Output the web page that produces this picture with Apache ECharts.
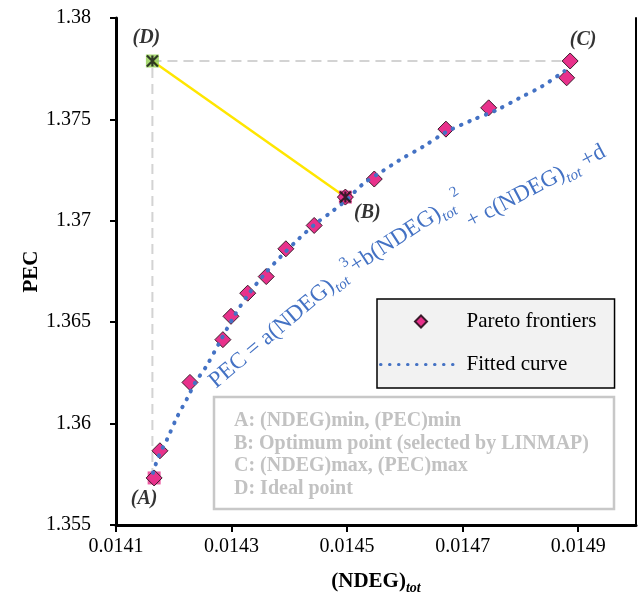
<!DOCTYPE html>
<html>
<head>
<meta charset="utf-8">
<script src="https://cdn.jsdelivr.net/npm/echarts@6/dist/echarts.min.js"></script>
<style>
  html, body { margin: 0; padding: 0; background: #fff; }
  #chart { width: 638px; height: 605px; }
</style>
</head>
<body>
<div id="chart"></div>
<script>
// Axis ranges and tick labels
const xRange = [0.0141, 0.015];
const yRange = [1.355, 1.38];
const xTicks = [0.0141, 0.0143, 0.0145, 0.0147, 0.0149];
const yTicks = [1.355, 1.36, 1.365, 1.37, 1.375, 1.38];

// Pareto frontier solutions: (NDEG)tot vs PEC
const paretoNDEG = [0.014166, 0.014176, 0.014228, 0.014285, 0.014299, 0.014328, 0.014360, 0.014394, 0.014443, 0.014497, 0.014547, 0.014671, 0.014745, 0.014880, 0.014886];
const paretoPEC  = [1.35732, 1.35866, 1.36203, 1.36414, 1.36529, 1.36643, 1.36725, 1.36862, 1.36977, 1.37117, 1.37206, 1.37452, 1.37557, 1.37705, 1.37788];

// Cubic fitted curve through the frontier
const fitNDEG = [0.014164, 0.014174, 0.014188, 0.014206, 0.014223, 0.014237, 0.014256, 0.014278, 0.014304, 0.014330, 0.014358, 0.014387, 0.014417, 0.014446, 0.014474, 0.014498, 0.014529, 0.014561, 0.014590, 0.014633, 0.014671, 0.014716, 0.014758, 0.014798, 0.014838, 0.014876];
const fitPEC  = [1.35757, 1.35841, 1.35920, 1.36034, 1.36123, 1.36202, 1.36281, 1.36394, 1.36528, 1.36641, 1.36740, 1.36829, 1.36913, 1.36987, 1.37046, 1.37101, 1.37185, 1.37244, 1.37298, 1.37368, 1.37437, 1.37496, 1.37545, 1.37605, 1.37664, 1.37738];

// Key points A (min/min), B (LINMAP optimum), C (max/max), D (ideal)
const keyLabels = ['(A)', '(B)', '(C)', '(D)'];
const keyNDEG = [0.014166, 0.014497, 0.014886, 0.014163];
const keyPEC  = [1.35732, 1.37117, 1.37788, 1.37788];

const noteLines = [
  'A: (NDEG)min, (PEC)min',
  'B: Optimum point (selected by LINMAP)',
  'C: (NDEG)max, (PEC)max',
  'D: Ideal point'
];

const SERIF = '"Liberation Serif", "Times New Roman", serif';
const PINK = '#E8318B';
const BLUE = '#4472C4';
const fmt = v => String(parseFloat(Number(v).toFixed(5)));
const pt = i => [keyNDEG[i], keyPEC[i]];

const labelOffsets = [[-10, 21], [22, 16], [13, -21], [-6, -23]];

const chart = echarts.init(document.getElementById('chart'), null, { renderer: 'canvas' });

const eqRich = {
  m: { fontFamily: SERIF, fontSize: 23, fill: BLUE, lineHeight: 31 },
  s: { fontFamily: SERIF, fontSize: 15, fontStyle: 'italic', fill: BLUE, lineHeight: 15, verticalAlign: 'bottom' },
  p: { fontFamily: SERIF, fontSize: 15, fill: BLUE, lineHeight: 15, verticalAlign: 'top' }
};
function eqPiece(text, x, y, deg) {
  return {
    type: 'text', x: x, y: y, rotation: deg * Math.PI / 180, z: 20, silent: true,
    style: { text: text, rich: eqRich, align: 'left', verticalAlign: 'middle' }
  };
}

const option = {
  animation: false,
  backgroundColor: '#fff',
  grid: { left: 116, right: 2, top: 18, bottom: 80, containLabel: false },
  legend: {
    left: 377, top: 299, orient: 'vertical', selectedMode: false,
    data: [
      { name: 'Pareto frontiers', icon: 'path://M5 0L10 5L5 10L0 5Z' },
      { name: 'Fitted curve', itemStyle: { opacity: 0 } }
    ],
    symbolKeepAspect: true,
    itemWidth: 81, itemHeight: 12, itemGap: 22,
    padding: [12, 18, 13, 2],
    backgroundColor: '#f2f2f2', borderColor: '#000', borderWidth: 1.5,
    lineStyle: { width: 3 },
    textStyle: { fontFamily: SERIF, fontSize: 21, color: '#000' }
  },
  xAxis: [{
    type: 'value', min: xRange[0], max: xRange[1],
    axisLine: { show: true, onZero: false, lineStyle: { color: '#000', width: 3 } },
    axisTick: { show: true, length: 7, customValues: xTicks, lineStyle: { color: '#000', width: 2 } },
    axisLabel: { customValues: xTicks, formatter: fmt, fontFamily: SERIF, fontSize: 20, color: '#000', margin: 12 },
    splitLine: { show: false },
    name: '{m|(NDEG)}{s|tot}', nameLocation: 'middle', nameGap: 44, nameMoveOverlap: false,
    nameTextStyle: {
      rich: {
        m: { fontFamily: SERIF, fontSize: 21, fontWeight: 'bold', color: '#000', lineHeight: 26 },
        s: { fontFamily: SERIF, fontSize: 14, fontWeight: 'bold', fontStyle: 'italic', color: '#000', lineHeight: 14, verticalAlign: 'bottom' }
      }
    }
  }],
  yAxis: [{
    type: 'value', min: yRange[0], max: yRange[1],
    axisLine: { show: true, onZero: false, lineStyle: { color: '#000', width: 3 } },
    axisTick: { show: true, length: 6, customValues: yTicks, lineStyle: { color: '#000', width: 2 } },
    axisLabel: { customValues: yTicks, formatter: fmt, fontFamily: SERIF, fontSize: 20, color: '#000', margin: 25 },
    splitLine: { show: false },
    name: 'PEC', nameLocation: 'middle', nameGap: 74, nameRotate: 90, nameMoveOverlap: false,
    nameTextStyle: { fontFamily: SERIF, fontSize: 21, fontWeight: 'bold', color: '#000' }
  }, {
    type: 'value', min: yRange[0], max: yRange[1], position: 'right',
    axisLine: { show: true, onZero: false, lineStyle: { color: '#000', width: 2 } },
    axisTick: { show: false }, axisLabel: { show: false }, splitLine: { show: false }
  }],
  graphic: [
    {
      type: 'rect', shape: { x: 214, y: 397, width: 400, height: 112 }, z: 10, silent: true,
      style: { fill: '#fff', stroke: '#c8c8c8', lineWidth: 2.5 }
    },
    {
      type: 'text', x: 234, y: 410, z: 11, silent: true,
      style: {
        text: noteLines.join('\n'), fill: '#c2c2c2', lineHeight: 22.5,
        font: 'bold 20px ' + SERIF, align: 'left', verticalAlign: 'top'
      }
    },
    eqPiece('{m|PEC = a(NDEG)}{s|tot}{p| 3}', 212, 384, 40),
    eqPiece('{m|+b(NDEG)}{s|tot}{p| 2}', 352, 268, 33),
    eqPiece('{m|+ c(NDEG)}{s|tot}{m| +d}', 468, 223, 28)
  ],
  series: [
    {
      // dashed guides from the ideal point to A and C
      type: 'line', silent: true, z: 1, symbol: 'none',
      data: [[keyNDEG[3], keyPEC[0]], pt(3), pt(2)],
      lineStyle: { color: '#d3d3d3', width: 2, type: [10, 6] }
    },
    {
      // distance from ideal point to the optimum
      type: 'line', silent: true, z: 2, symbol: 'none',
      data: [pt(3), pt(1)],
      lineStyle: { color: '#FFE600', width: 2.5 }
    },
    {
      type: 'scatter', silent: true, z: 3, symbol: 'rect', symbolSize: 13,
      data: [
        { value: pt(0), itemStyle: { color: PINK } },
        { value: pt(1), itemStyle: { color: PINK } },
        { value: pt(3), itemStyle: { color: '#92D050' } }
      ]
    },
    {
      name: 'Pareto frontiers', type: 'scatter', z: 4, symbol: 'diamond', symbolSize: 16,
      itemStyle: { color: PINK, borderColor: '#3b1b2b', borderWidth: 1, opacity: 1 },
      data: paretoNDEG.map((x, i) => [x, paretoPEC[i]])
    },
    {
      name: 'Fitted curve', type: 'line', z: 5, smooth: 0.3, symbol: 'none',
      lineStyle: { color: BLUE, width: 4, type: [0.5, 8.5], cap: 'round' },
      itemStyle: { color: BLUE },
      data: fitNDEG.map((x, i) => [x, fitPEC[i]])
    },
    {
      type: 'scatter', silent: true, z: 6, symbolSize: 11,
      symbol: 'path://M0 0L10 10M10 0L0 10M5 0L5 10',
      itemStyle: { color: 'none', borderColor: '#111', borderWidth: 2.2 },
      data: [pt(1), pt(3)]
    },
    {
      type: 'scatter', silent: true, z: 7, symbolSize: 1,
      itemStyle: { color: 'transparent' },
      label: {
        show: true, position: 'inside', formatter: p => p.name,
        fontFamily: SERIF, fontSize: 20, fontWeight: 'bold', fontStyle: 'italic', color: '#000'
      },
      data: keyLabels.map((n, i) => ({ name: n, value: pt(i), label: { offset: labelOffsets[i] } }))
    }
  ]
};

chart.setOption(option);
</script>
</body>
</html>
